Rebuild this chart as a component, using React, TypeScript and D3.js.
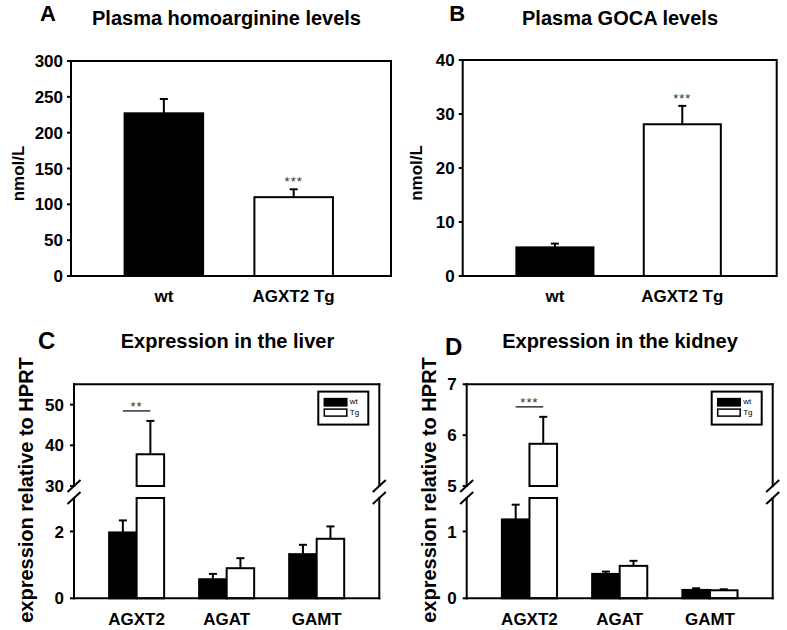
import React from "react";
import * as d3 from "d3";

const FONT = "'Liberation Sans', Arial, Helvetica, sans-serif";

// ---- Panel A / B data ----
const abGroups = ["wt", "AGXT2 Tg"];
const homoargMean = [227, 110];
const homoargErr = [20, 11];
const homoargTicks = [0, 50, 100, 150, 200, 250, 300];
const gocaMean = [5.3, 28.1];
const gocaErr = [0.7, 3.4];
const gocaTicks = [0, 10, 20, 30, 40];

// ---- Panel C / D data ----
const genes = ["AGXT2", "AGAT", "GAMT"];
const genotypes = ["wt", "Tg"];
const liverWt = [1.97, 0.57, 1.32];
const liverWtErr = [0.36, 0.16, 0.28];
const liverTg = [37.8, 0.9, 1.78];
const liverTgErr = [8.2, 0.3, 0.37];
const liverLowTicks = [0, 2];
const liverHighTicks = [30, 40, 50];
const kidneyWt = [1.18, 0.365, 0.125];
const kidneyWtErr = [0.22, 0.035, 0.025];
const kidneyTg = [5.83, 0.485, 0.12];
const kidneyTgErr = [0.53, 0.075, 0.015];
const kidneyLowTicks = [0, 1];
const kidneyHighTicks = [5, 6, 7];

type ErrProps = { x: number; y0: number; y1: number };
function ErrBar({ x, y0, y1 }: ErrProps) {
  return (
    <g stroke="#000" strokeWidth={2}>
      <line x1={x} x2={x} y1={y0} y2={y1} />
      <line x1={x - 4} x2={x + 4} y1={y1} y2={y1} />
    </g>
  );
}

type SimpleProps = {
  left: number; right: number; top: number; bottom: number;
  max: number; ticks: number[]; means: number[]; errs: number[];
  sig: number; title: string; titleX: number; letter: string; letterX: number;
  ylabX: number; align: number;
};

function SimplePanel(p: SimpleProps) {
  const x = d3.scaleBand<string>().domain(abGroups).range([p.left, p.right])
    .paddingInner(0.395).paddingOuter(0.43).align(p.align);
  const y = d3.scaleLinear().domain([0, p.max]).range([p.bottom, p.top]);
  const midY = (p.top + p.bottom) / 2;
  return (
    <g fontFamily={FONT}>
      <text x={p.letterX} y={20.7} fontSize={22} fontWeight="bold">{p.letter}</text>
      <text x={p.titleX} y={25} fontSize={20} fontWeight="bold" textAnchor="middle">{p.title}</text>
      <text transform={`translate(${p.ylabX},${midY + 5}) rotate(-90)`} fontSize={17} fontWeight="bold" textAnchor="middle">nmol/L</text>
      {abGroups.map((g, i) => {
        const bx = x(g)!;
        const bw = x.bandwidth();
        const cx = bx + bw / 2;
        return (
          <g key={g}>
            <ErrBar x={cx} y0={y(p.means[i])} y1={y(p.means[i] + p.errs[i])} />
            <rect x={bx} y={y(p.means[i])} width={bw} height={y(0) - y(p.means[i])}
              fill={i === 0 ? "#000" : "#fff"} stroke="#000" strokeWidth={2} />
            <text x={cx} y={p.bottom + 25.5} fontSize={17} fontWeight="bold" textAnchor="middle">{g}</text>
            {i === p.sig && (
              <text x={cx} y={y(p.means[i] + p.errs[i]) - 3} fontSize={13} textAnchor="middle" fill="#333" letterSpacing={1}>***</text>
            )}
          </g>
        );
      })}
      <rect x={p.left} y={p.top} width={p.right - p.left} height={p.bottom - p.top} fill="none" stroke="#000" strokeWidth={2} />
      {p.ticks.map((t) => (
        <g key={t}>
          <line x1={p.left - 4} x2={p.left} y1={y(t)} y2={y(t)} stroke="#000" strokeWidth={2} />
          <text x={p.left - 8} y={y(t)} dy="0.36em" fontSize={17} fontWeight="bold" textAnchor="end">{t}</text>
        </g>
      ))}
    </g>
  );
}

type BrokenProps = {
  left: number; right: number; top: number; bottom: number;
  lowMax: number; highMin: number; highMax: number;
  lowTicks: number[]; highTicks: number[];
  wt: number[]; wtErr: number[]; tg: number[]; tgErr: number[];
  stars: string; title: string; titleX: number; letter: string; letterX: number; letterY: number;
  ylabX: number;
};

function BrokenPanel(p: BrokenProps) {
  const breakHigh = 486;
  const breakLow = 498;
  const xg = d3.scaleBand<string>().domain(genes).range([p.left, p.right]).paddingInner(0.389).paddingOuter(0.39);
  const xs = d3.scaleBand<string>().domain(genotypes).range([0, xg.bandwidth()]);
  const yLow = d3.scaleLinear().domain([0, p.lowMax]).range([p.bottom, breakLow]);
  const yHigh = d3.scaleLinear().domain([p.highMin, p.highMax]).range([breakHigh, p.top]);
  const vals = [p.wt, p.tg];
  const errs = [p.wtErr, p.tgErr];
  const lx = p.right - 61;
  const ly = p.top + 7.3;
  const bars: JSX.Element[] = [];
  let sigTop = 0;
  genes.forEach((gene, i) => {
    genotypes.forEach((gt, j) => {
      const v = vals[j][i];
      const e = errs[j][i];
      const bx = xg(gene)! + xs(gt)!;
      const bw = xs.bandwidth();
      const cx = bx + bw / 2;
      const fill = j === 0 ? "#000" : "#fff";
      if (v <= p.lowMax) {
        bars.push(
          <g key={gene + gt}>
            <ErrBar x={cx} y0={yLow(v)} y1={yLow(v + e)} />
            <rect x={bx} y={yLow(v)} width={bw} height={yLow(0) - yLow(v)} fill={fill} stroke="#000" strokeWidth={2} />
          </g>
        );
      } else {
        sigTop = yHigh(v + e);
        bars.push(
          <g key={gene + gt}>
            <rect x={bx} y={yLow(p.lowMax)} width={bw} height={yLow(0) - yLow(p.lowMax)} fill={fill} stroke="#000" strokeWidth={2} />
            <ErrBar x={cx} y0={yHigh(v)} y1={yHigh(v + e)} />
            <rect x={bx} y={yHigh(v)} width={bw} height={yHigh(p.highMin) - yHigh(v)} fill={fill} stroke="#000" strokeWidth={2} />
          </g>
        );
      }
    });
  });
  const g0 = genes[0];
  const sx1 = xg(g0)! + xs("wt")! + xs.bandwidth() / 2;
  const sx2 = xg(g0)! + xs("Tg")! + xs.bandwidth() / 2;
  const sigY = sigTop - 10;
  const breakMark = (x: number, y: number, k: string) => (
    <line key={k} x1={x - 6.5} y1={y + 6} x2={x + 6.5} y2={y - 6} stroke="#000" strokeWidth={2} />
  );
  return (
    <g fontFamily={FONT}>
      <text x={p.letterX} y={p.letterY} fontSize={24} fontWeight="bold">{p.letter}</text>
      <text x={p.titleX} y={348} fontSize={20} fontWeight="bold" textAnchor="middle">{p.title}</text>
      <text transform={`translate(${p.ylabX},490) rotate(-90)`} fontSize={20} fontWeight="bold" textAnchor="middle">expression relative to HPRT</text>
      {bars}
      <line x1={sx1} x2={sx2} y1={sigY} y2={sigY} stroke="#333" strokeWidth={1.5} />
      <text x={(sx1 + sx2) / 2} y={sigY} fontSize={13} textAnchor="middle" fill="#333" letterSpacing={1}>{p.stars}</text>
      <g stroke="#000" strokeWidth={2} strokeLinecap="square">
        <line x1={p.left} x2={p.right} y1={p.top} y2={p.top} />
        <line x1={p.left} x2={p.right} y1={p.bottom} y2={p.bottom} />
        <line x1={p.left} x2={p.left} y1={p.top} y2={breakHigh} />
        <line x1={p.left} x2={p.left} y1={breakLow} y2={p.bottom} />
        <line x1={p.right} x2={p.right} y1={p.top} y2={breakHigh} />
        <line x1={p.right} x2={p.right} y1={breakLow} y2={p.bottom} />
      </g>
      {breakMark(p.left, breakHigh, "a")}
      {breakMark(p.left, breakLow, "b")}
      {breakMark(p.right, breakHigh, "c")}
      {breakMark(p.right, breakLow, "d")}
      {p.lowTicks.map((t) => (
        <g key={"l" + t}>
          <line x1={p.left - 4} x2={p.left} y1={yLow(t)} y2={yLow(t)} stroke="#000" strokeWidth={2} />
          <text x={p.left - 10} y={yLow(t)} dy="0.36em" fontSize={17} fontWeight="bold" textAnchor="end">{t}</text>
        </g>
      ))}
      {p.highTicks.map((t) => (
        <g key={"h" + t}>
          <line x1={p.left - 4} x2={p.left} y1={yHigh(t)} y2={yHigh(t)} stroke="#000" strokeWidth={2} />
          <text x={p.left - 10} y={yHigh(t)} dy="0.36em" fontSize={17} fontWeight="bold" textAnchor="end">{t}</text>
        </g>
      ))}
      {genes.map((g) => (
        <text key={g} x={xg(g)! + xg.bandwidth() / 2} y={625} fontSize={17} fontWeight="bold" textAnchor="middle">{g}</text>
      ))}
      <g>
        <rect x={lx} y={ly} width={50} height={33} fill="#fff" stroke="#000" strokeWidth={2} />
        <rect x={lx + 6} y={ly + 7} width={22.5} height={7.3} fill="#000" stroke="#000" strokeWidth={1.5} />
        <rect x={lx + 6} y={ly + 17.5} width={22.5} height={7} fill="#fff" stroke="#000" strokeWidth={1.5} />
        <text x={lx + 31.5} y={ly + 12.5} fontSize={8} fill="#000">wt</text>
        <text x={lx + 31.5} y={ly + 23} fontSize={8} fill="#000">Tg</text>
      </g>
    </g>
  );
}

export default function App() {
  return (
    <svg width={787} height={630} style={{ position: "absolute", left: 0, top: 0, background: "#fff" }}>
      <rect width={787} height={630} fill="#fff" />
      <SimplePanel left={71} right={391} top={61} bottom={276} max={300} ticks={homoargTicks}
        means={homoargMean} errs={homoargErr} sig={1} title="Plasma homoarginine levels" titleX={226.5}
        letter="A" letterX={40} ylabX={23.5} align={0.48} />
      <SimplePanel left={462.7} right={776.7} top={60} bottom={276} max={40} ticks={gocaTicks}
        means={gocaMean} errs={gocaErr} sig={1} title="Plasma GOCA levels" titleX={620}
        letter="B" letterX={449.3} ylabX={422} align={0.49} />
      <BrokenPanel left={74} right={379.3} top={384.3} bottom={598.3} lowMax={3} highMin={30} highMax={55}
        lowTicks={liverLowTicks} highTicks={liverHighTicks} wt={liverWt} wtErr={liverWtErr} tg={liverTg} tgErr={liverTgErr}
        stars="**" title="Expression in the liver" titleX={227.5} letter="C" letterX={38} letterY={349.3} ylabX={33.3} />
      <BrokenPanel left={466.7} right={772.7} top={384.3} bottom={598.3} lowMax={1.5} highMin={5} highMax={7}
        lowTicks={kidneyLowTicks} highTicks={kidneyHighTicks} wt={kidneyWt} wtErr={kidneyWtErr} tg={kidneyTg} tgErr={kidneyTgErr}
        stars="***" title="Expression in the kidney" titleX={620} letter="D" letterX={445} letterY={355} ylabX={436} />
    </svg>
  );
}
